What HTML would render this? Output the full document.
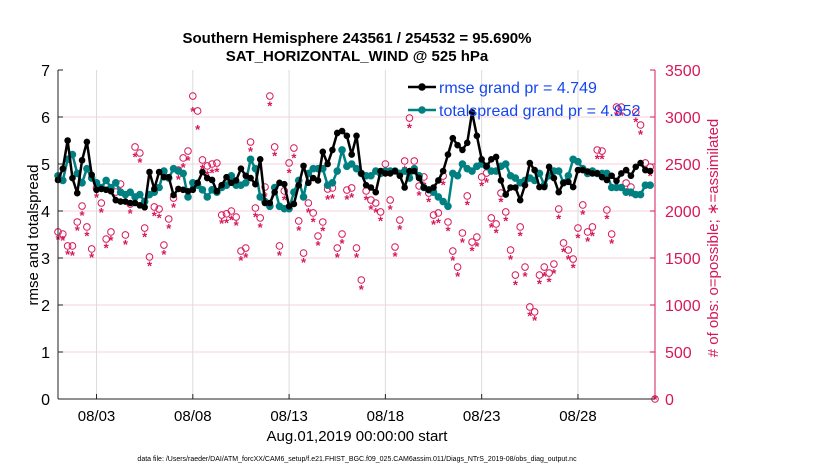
<!DOCTYPE html>
<html><head><meta charset="utf-8"><style>
body{margin:0;background:#fff;}
svg text{font-family:"Liberation Sans",sans-serif;}
</style></head><body>
<svg id="chart" width="830" height="470" viewBox="0 0 830 470" xmlns="http://www.w3.org/2000/svg">
<rect width="830" height="470" fill="#fff"/>
<g id="grid"></g>
<g id="obs"></g>
<g id="lines"></g>
<g id="axes"></g>
<text x="357" y="43" text-anchor="middle" font-size="15" font-weight="bold">Southern Hemisphere 243561 / 254532 = 95.690%</text>
<text x="357" y="61" text-anchor="middle" font-size="15" font-weight="bold">SAT_HORIZONTAL_WIND @ 525 hPa</text>
<text transform="translate(38,235) rotate(-90)" text-anchor="middle" font-size="15">rmse and totalspread</text>
<text transform="translate(718,238) rotate(-90)" text-anchor="middle" font-size="15" fill="#d6185a"># of obs: o=possible; ∗=assimilated</text>
<text x="357" y="441" text-anchor="middle" font-size="15">Aug.01,2019 00:00:00 start</text>
<text x="357" y="461" text-anchor="middle" font-size="7">data file: /Users/raeder/DAI/ATM_forcXX/CAM6_setup/f.e21.FHIST_BGC.f09_025.CAM6assim.011/Diags_NTrS_2019-08/obs_diag_output.nc</text>
<g id="legend"></g>
</svg>
<script>
const xTickLabels=["08/03","08/08","08/13","08/18","08/23","08/28"];
const xTickDays=[2,7,12,17,22,27];
const yTicks=[0,1,2,3,4,5,6,7];
const yRightTicks=[0,500,1000,1500,2000,2500,3000,3500];
const rmse=[4.66,4.9,5.5,4.7,4.38,5.08,5.47,4.77,4.45,4.47,4.45,4.42,4.23,4.2,4.2,4.17,4.17,4.12,4.08,4.83,4.47,4.83,4.72,4.72,4.34,4.47,4.45,4.42,4.45,4.6,4.83,4.7,4.66,
4.42,4.55,4.72,4.6,4.65,4.9,4.75,4.7,4.57,5.1,4.17,4.17,4.4,4.6,4.57,4.1,4.15,4.55,4.96,4.6,4.7,4.65,5.26,5.0,5.3,5.66,5.7,5.6,5.2,5.6,4.8,
4.55,4.5,4.4,4.85,4.8,4.8,4.85,4.75,4.5,4.85,4.85,4.7,4.5,4.45,4.5,4.65,4.85,5.2,5.55,5.4,5.3,5.45,6.1,5.6,5.1,4.95,5.1,5.15,4.65,4.35,4.5,
4.5,4.23,4.55,5.02,4.87,4.51,4.51,4.94,4.7,4.4,4.6,4.62,4.51,4.87,4.87,4.84,4.8,4.8,4.72,4.66,4.75,4.64,4.8,4.87,4.75,4.94,5.02,4.87,4.85];
const spread=[4.75,4.65,5.1,5.2,4.8,4.6,4.9,4.7,4.6,4.5,4.65,4.5,4.6,4.4,4.35,4.4,4.3,4.35,4.2,4.35,4.4,4.5,4.85,4.7,4.9,4.85,4.8,4.3,4.6,4.55,4.45,4.3,4.45,4.4,4.5,4.55,4.75,4.55,4.55,4.6,5.1,4.9,4.3,4.2,4.1,4.5,4.1,4.05,4.05,4.4,4.65,4.3,4.8,4.9,4.9,4.9,4.55,4.6,4.85,5.3,4.95,5.0,4.9,4.8,4.75,4.75,4.85,4.8,4.85,4.85,4.85,4.8,4.85,4.7,4.9,4.75,4.5,4.45,4.4,4.3,4.2,4.1,4.8,4.75,5.0,4.9,4.85,4.95,5.0,4.95,4.85,4.85,4.95,5.0,4.75,4.7,4.6,4.65,4.7,4.65,4.8,4.55,4.75,4.85,4.85,4.6,4.75,5.1,5.05,4.9,4.8,4.85,4.8,4.8,4.8,4.5,4.5,4.5,4.4,4.4,4.35,4.35,4.55,4.55];
const possible=[1777,1755,1628,1628,1883,2053,1830,1596,2245,2085,1702,1777,2202,2287,1745,2074,2681,2617,1819,1511,2043,2021,1638,1915,2138,2436,2564,2638,3223,3064,2543,2479,2500,
2510,1957,1970,2000,1936,1574,1606,2734,2032,1926,2255,3223,2681,1628,2213,2511,2670,1894,1553,2085,1979,1734,1883,2234,2245,1606,1755,2223,2245,1606,1266,
2213,2117,2085,1990,2500,2117,1617,1904,2532,2989,2532,2266,2362,2191,1957,1979,2372,1883,1574,1404,1766,2160,1670,1723,2362,2404,1926,1862,2191,1990,1585,
1319,1830,1404,979,926,1319,1404,1340,1436,2021,1660,1585,1489,1819,2064,1777,1830,2649,2638,2011,1755,3106,3106,2298,2255,3053,2915,2511,2468,0];
const assimilated=[1700,1690,1540,1530,1800,1960,1740,1510,2150,1990,1610,1690,2110,2200,1650,1980,2580,2520,1730,1420,1950,1930,1540,1820,2040,2340,2470,2540,3064,2870,2450,2390,2410,
2420,1870,1880,1910,1850,1480,1510,2640,1940,1830,2160,3120,2590,1530,2120,2410,2570,1800,1460,1990,1890,1640,1790,2130,2140,1510,1660,2130,2150,1510,1170,
2120,2020,1990,1900,2410,2020,1520,1810,2440,2890,2440,2170,2270,2100,1860,1880,2280,1790,1480,1310,1670,2070,1580,1630,2270,2310,1830,1770,2100,1900,1490,
1220,1740,1310,890,840,1230,1310,1250,1340,1920,1570,1490,1400,1720,1970,1680,1740,2560,2560,1920,1660,3020,3020,2200,2160,2950,2820,2420,2380,0];

const NS="http://www.w3.org/2000/svg";
const L=58,R=655,T=70,B=399,D0=0,D1=31;
const xs=d=>L+(d-D0)/(D1-D0)*(R-L);
const yl=v=>B-v/7*(B-T);
const yr=v=>B-v/3500*(B-T);
function mk(tag,attrs,parent){const e=document.createElementNS(NS,tag);for(const k in attrs)e.setAttribute(k,attrs[k]);parent.appendChild(e);return e;}
const grid=document.getElementById('grid'),axes=document.getElementById('axes'),obs=document.getElementById('obs'),lines=document.getElementById('lines'),legend=document.getElementById('legend');
const MAG="#d6185a",TEAL="#008080";

yTicks.forEach(v=>{
 if(v>0&&v<7){const g=mk('line',{x1:L,x2:R,y1:yl(v),y2:yl(v),stroke:"#f3d3de","stroke-width":1},grid);
 
 }
 const tk=mk('line',{x1:L,x2:L+5,y1:yl(v),y2:yl(v),stroke:"#222"},axes);
 
 
 const t=mk('text',{x:L-8,y:yl(v)+6,"text-anchor":"end","font-size":16},axes);t.textContent=v;
 
 
});
yRightTicks.forEach(v=>{
 const tk=mk('line',{x1:R-5,x2:R,y1:yr(v),y2:yr(v),stroke:MAG},axes);
 
 
 const t=mk('text',{x:R+10,y:yr(v)+6,"font-size":16,fill:MAG},axes);t.textContent=v;
 
 
});
xTickDays.forEach((d,i)=>{
 const g=mk('line',{x1:xs(d),x2:xs(d),y1:T,y2:B,stroke:"#dcdcdc"},grid);
 
 
 const tk=mk('line',{x1:xs(d),x2:xs(d),y1:B-5,y2:B,stroke:"#222"},axes);
 
 
 const t=mk('text',{x:xs(d),y:B+22,"text-anchor":"middle","font-size":15},axes);t.textContent=xTickLabels[i];
 
 
});
const ax1=mk('line',{x1:L,x2:L,y1:T,y2:B,stroke:"#222"},axes);


const ax2=mk('line',{x1:L,x2:R,y1:B,y2:B,stroke:"#222"},axes);


const ax3=mk('line',{x1:R,x2:R,y1:T,y2:B,stroke:MAG},axes);



const obsStep=0.25;
possible.forEach((v,i)=>{
 const d=i===possible.length-1?31:i*obsStep;
 const c=mk('circle',{cx:xs(d),cy:yr(v),r:3.3,fill:"none",stroke:MAG,"stroke-width":1},obs);
 
 
});
assimilated.forEach((v,i)=>{
 const d=i===assimilated.length-1?31:i*obsStep;
 const t=mk('text',{x:xs(d),y:yr(v)+5,"text-anchor":"middle","font-size":13,fill:MAG,"font-weight":"bold"},obs);t.textContent="*";
 
 
});

function drawSeries(arr,color,name,r){
 const span=30.75;
 const pts=arr.map((v,i)=>[xs(i*span/(arr.length-1)),yl(v)]);
 const p=mk('polyline',{points:pts.map(p=>p.join(',')).join(' '),fill:"none",stroke:color,"stroke-width":2.5,"stroke-linejoin":"round"},lines);
 
 
 pts.forEach(q=>{const c=mk('circle',{cx:q[0],cy:q[1],r:r,fill:color},lines);
 
 });
}
drawSeries(spread,TEAL,'totalspread',3.8);
drawSeries(rmse,"#000",'rmse',3.3);

[["rmse grand pr = 4.749","#000",87],["totalspread grand pr = 4.952",TEAL,110]].forEach(([lab,col,y],i)=>{
 const l=mk('line',{x1:408,x2:436,y1:y,y2:y,stroke:col,"stroke-width":2.5},legend);
 
 
 const c=mk('circle',{cx:422,cy:y,r:3.8,fill:col},legend);
 
 
 const t=mk('text',{x:439,y:y+6,"font-size":16,fill:"#1447f0"},legend);t.textContent=lab;
 
 
});
</script>
</body></html>
